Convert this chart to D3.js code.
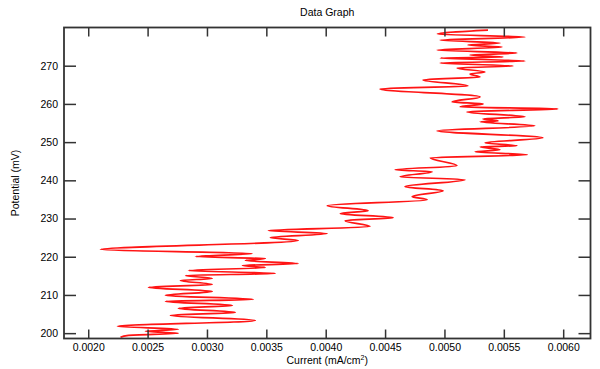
<!DOCTYPE html>
<html>
<head>
<meta charset="utf-8">
<script src="https://cdn.jsdelivr.net/npm/d3@7"></script>
<style>
  body { margin: 0; background: #fff; }
  #chart { width: 600px; height: 369px; }
  text { font-family: Arial, "Liberation Sans", sans-serif; fill: #000; }
</style>
</head>
<body>
<div id="chart"></div>
<script>
// trace in recording order: current (mA/cm2) and potential (mV)
const current = [
  0.002272, 0.002339, 0.002759, 0.002482, 0.002759, 0.002246, 0.003407, 0.002692,
  0.003239, 0.002759, 0.003214, 0.002650, 0.003390, 0.002650, 0.003045, 0.002507,
  0.003045, 0.002776, 0.003045, 0.002820, 0.003575, 0.002844, 0.003492, 0.003298,
  0.003769, 0.003323, 0.003492, 0.002903, 0.003382, 0.002103, 0.003769, 0.003533,
  0.004013, 0.003516, 0.004374, 0.004164, 0.004568, 0.004122, 0.004357, 0.004013,
  0.004854, 0.004728, 0.004988, 0.004668, 0.005173, 0.004626, 0.004896, 0.004584,
  0.005106, 0.004880, 0.005698, 0.005258, 0.005468, 0.005300, 0.005611, 0.005342,
  0.005829, 0.004938, 0.005761, 0.005300, 0.005451, 0.005325, 0.005678, 0.005190,
  0.005955, 0.005131, 0.005325, 0.005064, 0.005300, 0.004458, 0.005198, 0.004820,
  0.005300, 0.005215, 0.005341, 0.005106, 0.005577, 0.004963, 0.005678, 0.004963,
  0.005493, 0.005215, 0.005611, 0.004938, 0.005485, 0.005198, 0.005468, 0.004963,
  0.005678, 0.004940, 0.005367
]
const potential = [
  198.90, 199.43, 199.95, 200.47, 201.00, 201.78, 203.33, 204.65,
  205.43, 206.47, 207.26, 208.30, 208.82, 209.87, 210.91, 211.96,
  212.74, 213.78, 214.31, 215.09, 215.61, 216.40, 217.18, 217.70,
  218.22, 219.01, 219.53, 220.05, 220.84, 221.88, 224.23, 225.01,
  226.06, 226.84, 227.89, 229.45, 230.23, 231.28, 232.06, 233.37,
  234.93, 235.72, 237.28, 238.33, 240.16, 240.94, 242.25, 242.77,
  243.81, 245.90, 246.68, 247.47, 247.99, 248.77, 249.03, 249.82,
  251.12, 252.95, 254.26, 255.30, 255.56, 256.08, 256.61, 257.91,
  258.69, 259.22, 260.00, 260.52, 261.83, 263.92, 264.70, 266.27,
  267.05, 267.83, 268.36, 269.40, 269.92, 270.71, 271.23, 272.01,
  272.27, 272.79, 273.32, 274.10, 274.88, 275.40, 275.93, 276.71,
  277.49, 278.28, 279.32
]
const xTicks = [0.0020, 0.0025, 0.0030, 0.0035, 0.0040, 0.0045, 0.0050, 0.0055, 0.0060]
const yTicks = [200, 210, 220, 230, 240, 250, 260, 270]
const xRange = [0.001796, 0.00623]
const yRange = [198.6, 280.0]

const chart = {}
chart.padding = { left: 64, right: 9.5, top: 27.5, bottom: 30.5 }
chart.width = 600
chart.height = 369
chart.innerW = chart.width - chart.padding.left - chart.padding.right
chart.innerH = chart.height - chart.padding.top - chart.padding.bottom

chart.svg = d3.select('#chart')
  .append('svg')
  .attr('width', chart.width)
  .attr('height', chart.height)

chart.xScale = d3.scaleLinear().domain(xRange).range([0, chart.innerW])
chart.yScale = d3.scaleLinear().domain(yRange).range([chart.innerH, 0])

const g = chart.svg.append('g')
  .attr('transform', `translate(${chart.padding.left},${chart.padding.top})`)

g.append('clipPath').attr('id', 'plotClip')
  .append('rect')
  .attr('width', chart.innerW)
  .attr('height', chart.innerH)

// the trace; potential only rises, so a monotone-in-y spline keeps the turns round
const line = d3.line()
  .x(i => chart.xScale(current[i]))
  .y(i => chart.yScale(potential[i]))
  .curve(d3.curveMonotoneY)

g.append('path')
  .datum(d3.range(current.length))
  .attr('clip-path', 'url(#plotClip)')
  .attr('d', line)
  .style('fill', 'none')
  .style('stroke', '#ff1414')
  .style('stroke-width', 1.7)
  .style('stroke-linejoin', 'round')

// axes, ticks pointing inside on all four sides
const styleAxis = sel => {
  sel.select('.domain').remove()
  sel.selectAll('.tick line').style('stroke', '#333').style('stroke-width', 1.5)
  sel.selectAll('.tick text').style('font-size', '10.5px').style('font-family', 'Arial, "Liberation Sans", sans-serif')
}

g.append('g')
  .attr('transform', `translate(0,${chart.innerH})`)
  .call(d3.axisBottom(chart.xScale).tickValues(xTicks).tickFormat(d3.format('.4f'))
    .tickSizeInner(-9).tickSizeOuter(0).tickPadding(5))
  .call(styleAxis)

g.append('g')
  .call(d3.axisTop(chart.xScale).tickValues(xTicks).tickFormat('')
    .tickSizeInner(-9).tickSizeOuter(0))
  .call(styleAxis)

g.append('g')
  .call(d3.axisLeft(chart.yScale).tickValues(yTicks).tickFormat(d3.format('d'))
    .tickSizeInner(-12).tickSizeOuter(0).tickPadding(6))
  .call(styleAxis)

g.append('g')
  .attr('transform', `translate(${chart.innerW},0)`)
  .call(d3.axisRight(chart.yScale).tickValues(yTicks).tickFormat('')
    .tickSizeInner(-12).tickSizeOuter(0))
  .call(styleAxis)

g.append('rect')
  .attr('width', chart.innerW)
  .attr('height', chart.innerH)
  .style('fill', 'none')
  .style('stroke', '#333')
  .style('stroke-width', 1.8)

// titles
chart.svg.append('text')
  .attr('x', chart.padding.left + chart.innerW / 2)
  .attr('y', 16)
  .attr('text-anchor', 'middle')
  .style('font-size', '10.5px')
  .text('Data Graph')

const xLabel = chart.svg.append('text')
  .attr('x', chart.padding.left + chart.innerW / 2)
  .attr('y', 364)
  .attr('text-anchor', 'middle')
  .style('font-size', '10.5px')
xLabel.append('tspan').text('Current (mA/cm')
xLabel.append('tspan').attr('dy', -4).style('font-size', '7px').text('2')
xLabel.append('tspan').attr('dy', 4).text(')')

chart.svg.append('text')
  .attr('transform', `translate(19,${chart.padding.top + chart.innerH / 2}) rotate(-90)`)
  .attr('text-anchor', 'middle')
  .style('font-size', '10.5px')
  .text('Potential (mV)')
</script>
</body>
</html>
